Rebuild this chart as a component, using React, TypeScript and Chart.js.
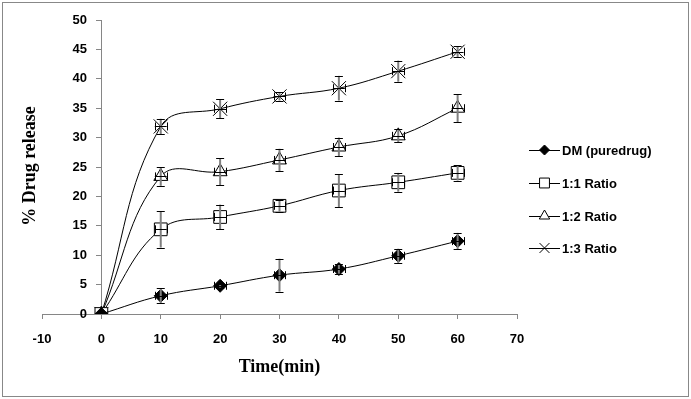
import React, { useEffect, useRef } from 'react';
import { Chart, registerables } from 'chart.js';

Chart.register(...registerables);

const times = [0, 10, 20, 30, 40, 50, 60];
const xTickStep = 10;
const yTickStep = 5;

const seriesNames = ['DM (puredrug)', '1:1 Ratio', '1:2 Ratio', '1:3 Ratio'];
const dmValues = [0, 3.1, 4.8, 6.6, 7.65, 9.9, 12.4];
const dmErr = [0, 1.3, 0.3, 2.8, 0.8, 1.2, 1.4];
const r11Values = [0, 14.4, 16.5, 18.4, 21.0, 22.4, 24.0];
const r11Err = [0, 3.1, 2.1, 1.0, 2.8, 1.6, 1.3];
const r12Values = [0, 23.4, 24.2, 26.2, 28.4, 30.3, 35.0];
const r12Err = [0, 1.6, 2.3, 1.9, 1.6, 1.1, 2.4];
const r13Values = [0, 31.9, 34.9, 37.0, 38.4, 41.3, 44.6];
const r13Err = [0, 1.3, 1.6, 0.7, 2.1, 1.8, 0.9];
const xErr = [0, 1, 1, 1, 1, 1, 1];

const allValues = [dmValues, r11Values, r12Values, r13Values];
const allErr = [dmErr, r11Err, r12Err, r13Err];
const pointStyles = ['rectRot', 'rect', 'triangle', 'crossRot'];
const pointRadii = [6.5, 9, 8, 10];
const pointFills = ['#000000', '#ffffff', '#ffffff', '#ffffff'];

function drawMarker(ctx: CanvasRenderingContext2D, style: string, x: number, y: number, r: number, fill: string) {
  ctx.save();
  ctx.beginPath();
  ctx.lineWidth = 1;
  ctx.strokeStyle = '#000';
  ctx.fillStyle = fill;
  if (style === 'rectRot') {
    ctx.moveTo(x - r, y);
    ctx.lineTo(x, y - r);
    ctx.lineTo(x + r, y);
    ctx.lineTo(x, y + r);
    ctx.closePath();
    ctx.fill();
    ctx.stroke();
  } else if (style === 'rect') {
    const s = r * Math.SQRT1_2;
    ctx.rect(x - s, y - s, 2 * s, 2 * s);
    ctx.fill();
    ctx.stroke();
  } else if (style === 'triangle') {
    for (let i = 0; i < 3; i++) {
      const a = (i * 2 * Math.PI) / 3;
      const px = x + Math.sin(a) * r;
      const py = y - Math.cos(a) * r;
      if (i === 0) ctx.moveTo(px, py);
      else ctx.lineTo(px, py);
    }
    ctx.closePath();
    ctx.fill();
    ctx.stroke();
  } else {
    const o = r * Math.SQRT1_2;
    ctx.moveTo(x - o, y - o);
    ctx.lineTo(x + o, y + o);
    ctx.moveTo(x - o, y + o);
    ctx.lineTo(x + o, y - o);
    ctx.stroke();
  }
  ctx.restore();
}

const framePlugin = {
  id: 'frame',
  beforeDraw(chart: any) {
    const ctx = chart.ctx;
    ctx.save();
    ctx.fillStyle = '#ffffff';
    ctx.fillRect(0, 0, chart.width, chart.height);
    ctx.strokeStyle = '#888888';
    ctx.lineWidth = 1;
    ctx.strokeRect(2.5, 2.5, chart.width - 5, chart.height - 5);
    ctx.restore();
  },
};

const errorBarPlugin = {
  id: 'errorBars',
  afterDatasetsDraw(chart: any) {
    const ctx = chart.ctx;
    const xs = chart.scales.x;
    const ys = chart.scales.y;
    ctx.save();
    chart.data.datasets.forEach((ds: any, di: number) => {
      const errs = allErr[di];
      ds.data.forEach((p: any, i: number) => {
        const px = xs.getPixelForValue(p.x);
        const py = ys.getPixelForValue(p.y);
        const e = errs[i];
        if (e > 0) {
          const top = ys.getPixelForValue(p.y + e);
          const bot = ys.getPixelForValue(p.y - e);
          ctx.strokeStyle = '#808080';
          ctx.lineWidth = 2;
          ctx.beginPath();
          ctx.moveTo(px, top);
          ctx.lineTo(px, bot);
          ctx.stroke();
          ctx.strokeStyle = '#000';
          ctx.lineWidth = 1;
          ctx.beginPath();
          ctx.moveTo(px - 4, Math.round(top) + 0.5);
          ctx.lineTo(px + 4, Math.round(top) + 0.5);
          ctx.moveTo(px - 4, Math.round(bot) + 0.5);
          ctx.lineTo(px + 4, Math.round(bot) + 0.5);
          ctx.stroke();
        }
        const xe = xErr[i];
        if (xe > 0) {
          const l = xs.getPixelForValue(p.x - xe);
          const r = xs.getPixelForValue(p.x + xe);
          ctx.strokeStyle = '#000';
          ctx.lineWidth = 1;
          ctx.beginPath();
          ctx.moveTo(l, Math.round(py) + 0.5);
          ctx.lineTo(r, Math.round(py) + 0.5);
          ctx.moveTo(Math.round(l) + 0.5, py - 4);
          ctx.lineTo(Math.round(l) + 0.5, py + 4);
          ctx.moveTo(Math.round(r) + 0.5, py - 4);
          ctx.lineTo(Math.round(r) + 0.5, py + 4);
          ctx.stroke();
        }
      });
    });
    ctx.restore();
  },
};

const legendRowsY = [150, 183, 216, 248];
const legendLineX = [529, 560];
const legendMarkerR = [5, 7, 6, 7];

const textPlugin = {
  id: 'texts',
  afterDraw(chart: any) {
    const ctx = chart.ctx;
    const area = chart.chartArea;
    ctx.save();
    ctx.fillStyle = '#000';
    // x title
    ctx.font = 'bold 18px "Liberation Serif", "Times New Roman", serif';
    ctx.textAlign = 'center';
    ctx.textBaseline = 'middle';
    ctx.fillText('Time(min)', (area.left + area.right) / 2, 367);
    // y title
    ctx.save();
    ctx.translate(30, 166);
    ctx.rotate(-Math.PI / 2);
    ctx.fillText('% Drug release', 0, 0);
    ctx.restore();
    // legend
    ctx.font = 'bold 13px "Liberation Sans", Arial, sans-serif';
    ctx.textAlign = 'left';
    seriesNames.forEach((name, i) => {
      const y = legendRowsY[i];
      ctx.strokeStyle = '#000';
      ctx.lineWidth = 1;
      ctx.beginPath();
      ctx.moveTo(legendLineX[0], y + 0.5);
      ctx.lineTo(legendLineX[1], y + 0.5);
      ctx.stroke();
      drawMarker(ctx, pointStyles[i], (legendLineX[0] + legendLineX[1]) / 2, y, legendMarkerR[i], pointFills[i]);
      ctx.fillStyle = '#000';
      ctx.fillText(name, 562, y + 1);
    });
    ctx.restore();
  },
};

export default function App() {
  const ref = useRef<HTMLCanvasElement | null>(null);
  useEffect(() => {
    if (!ref.current) return;
    const tickFont = { family: '"Liberation Sans", Arial, sans-serif', size: 13, weight: 'bold' as const };
    const chart = new Chart(ref.current, {
      type: 'line',
      data: {
        datasets: seriesNames.map((name, di) => ({
          label: name,
          data: times.map((t, i) => ({ x: t, y: allValues[di][i] })),
          borderColor: '#000000',
          borderWidth: 1,
          tension: 0.4,
          pointStyle: pointStyles[di] as any,
          pointRadius: pointRadii[di],
          pointBackgroundColor: pointFills[di],
          pointBorderColor: '#000000',
          pointBorderWidth: 1,
          fill: false,
        })),
      },
      options: {
        animation: false,
        responsive: false,
        events: [],
        layout: { padding: { left: 42, right: 174, top: 20, bottom: 0 } },
        plugins: { legend: { display: false }, tooltip: { enabled: false } },
        scales: {
          x: {
            type: 'linear',
            position: 'bottom',
            min: -10,
            max: 70,
            ticks: { stepSize: xTickStep, color: '#000', font: tickFont, padding: 13, maxRotation: 0 },
            grid: { display: true, drawOnChartArea: false, drawTicks: true, tickLength: 5, color: '#868686' },
            border: { display: true, color: '#868686', width: 1 },
            afterFit: (scale: any) => {
              scale.height = 85;
            },
          },
          y: {
            type: 'linear',
            position: { x: 0 } as any,
            min: 0,
            max: 50,
            ticks: {
              stepSize: yTickStep,
              color: '#000',
              font: tickFont,
              // positioned axes ignore tick padding, so keep a gap after the label
              callback: (v: any) => String(v) + '    ',
            },
            grid: { display: true, drawOnChartArea: false, drawTicks: true, tickLength: 5, color: '#868686' },
            border: { display: true, color: '#868686', width: 1 },
          },
        },
      },
      plugins: [framePlugin, errorBarPlugin, textPlugin],
    });
    return () => chart.destroy();
  }, []);
  return (
    <div style={{ position: 'fixed', left: 0, top: 0, width: 691, height: 399, background: '#fff' }}>
      <canvas ref={ref} width={691} height={399} style={{ display: 'block', width: 691, height: 399 }} />
    </div>
  );
}
